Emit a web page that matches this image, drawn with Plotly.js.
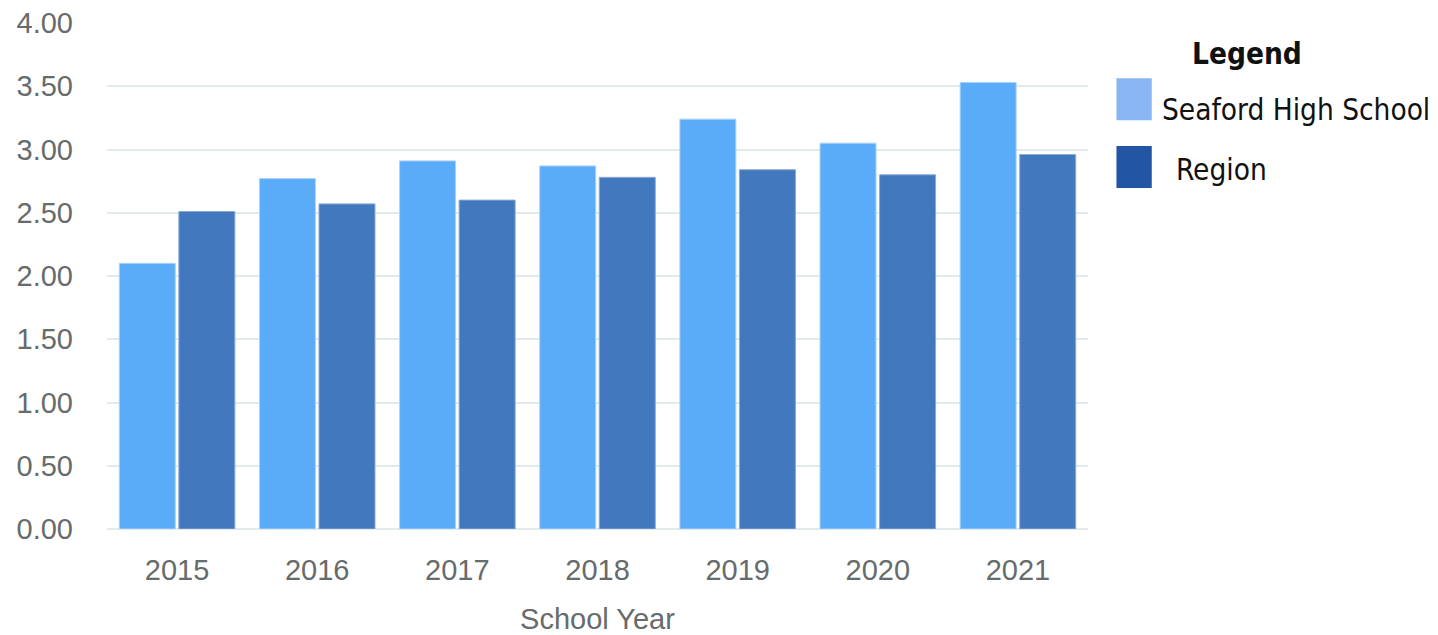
<!DOCTYPE html>
<html>
<head>
<meta charset="utf-8">
<script src="https://cdn.plot.ly/plotly-3.0.1.min.js"></script>
<style>html,body{margin:0;padding:0;background:#fff;}#chart{width:1438px;height:635px;}</style>
</head>
<body>
<div id="chart"></div>
<script>
const years = ['2015','2016','2017','2018','2019','2020','2021'];
const seafordValues = [2.10, 2.77, 2.91, 2.87, 3.24, 3.05, 3.53];
const regionValues = [2.51, 2.57, 2.60, 2.78, 2.84, 2.80, 2.96];
const yTickValues = [0, 0.5, 1, 1.5, 2, 2.5, 3, 3.5, 4];
const yTickLabels = ['0.00','0.50','1.00','1.50','2.00','2.50','3.00','3.50','4.00'];
const seriesNames = ['Seaford High School', 'Region'];

const tickFont = {family: '"Liberation Sans", Arial, sans-serif', size: 29, color: '#666b6b'};
const legendFont = {family: '"DejaVu Sans Condensed", "DejaVu Sans", Tahoma, sans-serif', size: 29.5, color: '#111'};

const traces = [
  {type: 'bar', x: years, y: seafordValues, name: seriesNames[0], marker: {color: '#5aabf8', line: {width: 1, color: '#a9d3fb'}}, hoverinfo: 'x+y'},
  {type: 'bar', x: years, y: regionValues, name: seriesNames[1], marker: {color: '#4178be', line: {width: 1, color: '#8aa9d6'}}, hoverinfo: 'x+y'}
];

const layout = {
  width: 1438, height: 635,
  margin: {l: 107, r: 350, t: 23, b: 106},
  paper_bgcolor: '#fff', plot_bgcolor: '#fff',
  barmode: 'group', bargap: 0.15, bargroupgap: 0.06,
  showlegend: false,
  xaxis: {
    type: 'category', showgrid: false, zeroline: false, showline: false,
    ticks: '', tickfont: tickFont, ticklabelstandoff: 21,
    title: {text: 'School Year', font: tickFont, standoff: 23}
  },
  yaxis: {
    range: [0, 4], tickvals: yTickValues, ticktext: yTickLabels,
    showgrid: true, gridcolor: '#e1ebeb', gridwidth: 2,
    zeroline: true, zerolinecolor: '#e1ebeb', zerolinewidth: 2,
    showline: false, ticks: '', tickfont: tickFont, ticklabelstandoff: 33
  },
  shapes: [
    {type: 'rect', xref: 'paper', yref: 'paper', x0: 1.029, x1: 1.065, y0: 0.808, y1: 0.891, fillcolor: '#8ab5f3', line: {width: 0}},
    {type: 'rect', xref: 'paper', yref: 'paper', x0: 1.029, x1: 1.065, y0: 0.674, y1: 0.757, fillcolor: '#2255a3', line: {width: 0}}
  ],
  annotations: [
    {xref: 'paper', yref: 'paper', x: 1.162, y: 0.939, text: '<b>Legend</b>', showarrow: false, xanchor: 'center', yanchor: 'middle', font: legendFont},
    {xref: 'paper', yref: 'paper', x: 1.073, y: 0.828, text: seriesNames[0], showarrow: false, xanchor: 'left', yanchor: 'middle', font: legendFont},
    {xref: 'paper', yref: 'paper', x: 1.088, y: 0.709, text: seriesNames[1], showarrow: false, xanchor: 'left', yanchor: 'middle', font: legendFont}
  ]
};

Plotly.newPlot('chart', traces, layout, {displayModeBar: false, staticPlot: true});
</script>
</body>
</html>
